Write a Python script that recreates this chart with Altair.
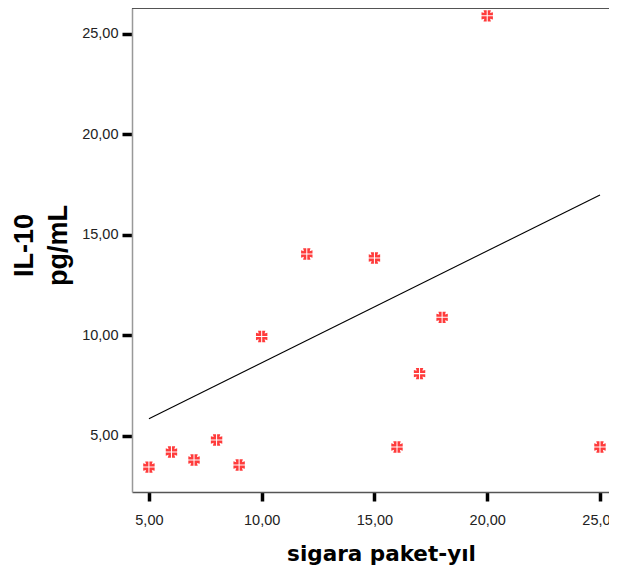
import altair as alt
import pandas as pd

# data
pack_years = [5, 6, 7, 8, 9, 10, 12, 15, 16, 17, 18, 20, 25]
il10 = [3.45, 4.2, 3.8, 4.8, 3.55, 9.95, 14.05, 13.85, 4.45, 8.1, 10.9, 25.9, 4.45]
fit_x = [5, 25]
fit_y = [5.85, 16.99]
x_ticks = [5, 10, 15, 20, 25]
y_ticks = [5, 10, 15, 20, 25]

pts = pd.DataFrame({"x": pack_years, "y": il10})
fit = pd.DataFrame({"x": fit_x, "y": fit_y})

W, H = 477, 484
xs = alt.Scale(domain=[4.25, 25.40], nice=False, zero=False)
ys = alt.Scale(domain=[2.21, 26.29], nice=False, zero=False)

lab = "replace(format(datum.value, '.2f'), '.', ',')"

x_axis = alt.Axis(values=x_ticks, labelExpr=lab, grid=False,
                  domainColor="#555555", domainWidth=1.5,
                  tickColor="black", tickWidth=3.5, tickSize=9,
                  labelFont="Liberation Sans", labelFontSize=14.5, labelColor="#222222",
                  labelPadding=12,
                  title="sigara paket-yıl", titleFont="DejaVu Sans", titleFontWeight="bold",
                  titleFontSize=21.5, titleColor="black",
                  titleX=249, titleY=68, titleAlign="center", titleBaseline="alphabetic")
y_axis = alt.Axis(values=y_ticks, labelExpr=lab, grid=False,
                  domainColor="#999999", domainWidth=1.5,
                  tickColor="black", tickWidth=3.5, tickSize=10,
                  labelFont="Liberation Sans", labelFontSize=14.5, labelColor="#222222",
                  labelPadding=4,
                  title=["IL-10", "pg/mL"], titleFont="Liberation Sans", titleFontWeight="bold",
                  titleFontSize=27, titleColor="black", titleAngle=270,
                  titleX=-100, titleY=237, titleAlign="center", titleBaseline="alphabetic",
                  titleLineHeight=34)

cross = ("M0.09,-1L0.65,-1L0.5,-0.5L1,-0.65L1,-0.09L0.09,-0.09Z "
         "M-0.09,-1L-0.65,-1L-0.5,-0.5L-1,-0.65L-1,-0.09L-0.09,-0.09Z "
         "M0.09,1L0.65,1L0.5,0.5L1,0.65L1,0.09L0.09,0.09Z "
         "M-0.09,1L-0.65,1L-0.5,0.5L-1,0.65L-1,0.09L-0.09,0.09Z")

line = alt.Chart(fit).mark_line(color="black", strokeWidth=1.1).encode(
    x=alt.X("x:Q", scale=xs, axis=x_axis),
    y=alt.Y("y:Q", scale=ys, axis=y_axis),
)
points = alt.Chart(pts).mark_point(shape=cross, filled=True, size=130,
                                   color="#ff3b3b", opacity=1, strokeWidth=0).encode(
    x=alt.X("x:Q", scale=xs),
    y=alt.Y("y:Q", scale=ys),
)
top = alt.Chart(pts).mark_rule(color="#555555", strokeWidth=1.5).encode(
    x=alt.value(0), x2=alt.value(W), y=alt.value(0)
)

chart = alt.layer(top, line, points).properties(
    width=W, height=H,
    autosize=alt.AutoSizeParams(type="none"),
    padding={"left": 124, "top": 0, "right": 0, "bottom": 73},
).configure_view(stroke=None)

chart.save("out.html", embed_options={"renderer": "svg", "actions": False})
